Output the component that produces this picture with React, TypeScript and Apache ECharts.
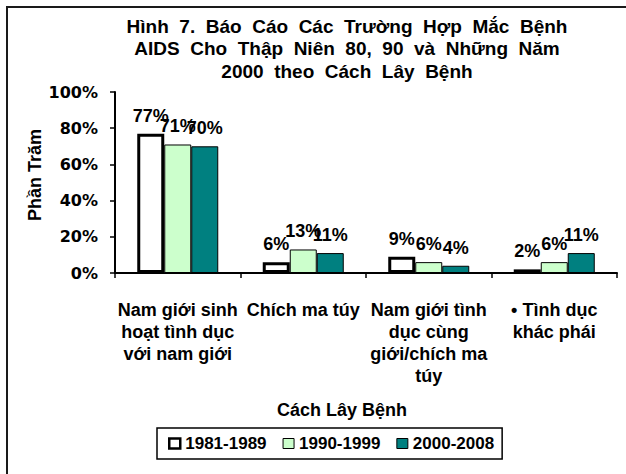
import React, { useEffect, useRef } from "react";
import * as echarts from "echarts";

const titleLines = [
  "Hình  7.  Báo  Cáo  Các  Trường  Hợp  Mắc  Bệnh",
  "AIDS  Cho  Thập  Niên  80,  90  và  Những  Năm",
  "2000  theo  Cách  Lây  Bệnh",
];
const categories = [
  "Nam giới sinh\nhoạt tình dục\nvới nam giới",
  "Chích ma túy",
  "Nam giới tình\ndục cùng\ngiới/chích ma\ntúy",
  "• Tình dục\nkhác phái",
];
const periods = ["1981-1989", "1990-1999", "2000-2008"];
const values1981 = [77, 6, 9, 2];
const values1990 = [71, 13, 6, 6];
const values2000 = [70, 11, 4, 11];
const yAxisName = "Phần Trăm";
const xAxisName = "Cách Lây Bệnh";

const ARIAL = "'Liberation Sans', Arial, sans-serif";
const WIDE = "'DejaVu Sans', sans-serif";

export default function App() {
  const ref = useRef<HTMLDivElement>(null);
  useEffect(() => {
    if (!ref.current) return;
    const chart = echarts.init(ref.current, null, { renderer: "svg" });
    const labelCfg = {
      show: true,
      position: "top",
      distance: 9,
      formatter: (p: any) => p.value + "%",
      color: "#000",
      fontFamily: ARIAL,
      fontWeight: "bold",
      fontSize: 18,
    };
    const seriesColors = [
      { color: "#ffffff", borderColor: "#000", borderWidth: 3 },
      { color: "#ccffcc", borderColor: "#000", borderWidth: 1 },
      { color: "#008080", borderColor: "#000", borderWidth: 1 },
    ];
    const dataSets = [values1981, values1990, values2000];
    chart.setOption({
      animation: false,
      backgroundColor: "#fff",
      grid: { left: 115, right: 9, top: 92, bottom: 201, containLabel: false },
      legend: {
        left: 157,
        top: 428,
        orient: "horizontal",
        padding: [7, 8, 7, 11],
        itemGap: 16,
        itemWidth: 11,
        itemHeight: 10,
        borderColor: "#000",
        borderWidth: 1.5,
        icon: "rect",
        textStyle: { fontFamily: ARIAL, fontWeight: "bold", fontSize: 17, color: "#000" },
        data: periods.map((name, i) => ({
          name,
          itemStyle: { borderWidth: i === 0 ? 2.5 : 1, borderColor: "#000" },
        })),
      },
      xAxis: {
        type: "category",
        data: categories,
        axisLine: { lineStyle: { color: "#000", width: 2 } },
        axisTick: { show: true, length: 5, lineStyle: { color: "#000", width: 1.5 } },
        axisLabel: {
          interval: 0,
          margin: 26,
          color: "#000",
          fontFamily: ARIAL,
          fontWeight: "bold",
          fontSize: 18,
          lineHeight: 22,
        },
        splitLine: { show: false },
      },
      yAxis: {
        type: "value",
        min: 0,
        max: 100,
        interval: 20,
        axisLine: { show: true, lineStyle: { color: "#000", width: 2 } },
        axisTick: { show: true, length: 5, lineStyle: { color: "#000", width: 1.5 } },
        axisLabel: {
          formatter: "{value}%",
          margin: 17,
          color: "#000",
          fontFamily: WIDE,
          fontWeight: "bold",
          fontSize: 16,
        },
        splitLine: { show: false },
      },
      series: periods.map((name, i) => ({
        name,
        type: "bar",
        data: dataSets[i],
        barWidth: 27,
        barGap: "0%",
        itemStyle: seriesColors[i],
        label: labelCfg,
      })),
      graphic: [
        {
          type: "line",
          shape: { x1: 6, y1: 7, x2: 626, y2: 7 },
          style: { stroke: "#1a1a1a", lineWidth: 2 },
          silent: true,
        },
        {
          type: "line",
          shape: { x1: 7, y1: 6, x2: 7, y2: 474 },
          style: { stroke: "#1a1a1a", lineWidth: 2 },
          silent: true,
        },
        {
          type: "text",
          x: 347,
          y: 15,
          style: {
            text: titleLines.join("\n"),
            textAlign: "center",
            textVerticalAlign: "top",
            fontFamily: ARIAL,
            fontWeight: "bold",
            fontSize: 19,
            lineHeight: 22.5,
            fill: "#000",
          },
        },
        {
          type: "text",
          x: 35,
          y: 175,
          rotation: Math.PI / 2,
          style: {
            text: yAxisName,
            textAlign: "center",
            textVerticalAlign: "middle",
            fontFamily: ARIAL,
            fontWeight: "bold",
            fontSize: 18,
            fill: "#000",
          },
        },
        {
          type: "text",
          x: 342,
          y: 410,
          style: {
            text: xAxisName,
            textAlign: "center",
            textVerticalAlign: "middle",
            fontFamily: ARIAL,
            fontWeight: "bold",
            fontSize: 18,
            fill: "#000",
          },
        },
      ],
    });
    return () => chart.dispose();
  }, []);
  return (
    <div
      ref={ref}
      style={{ position: "absolute", left: 0, top: 0, width: 626, height: 474 }}
    />
  );
}
